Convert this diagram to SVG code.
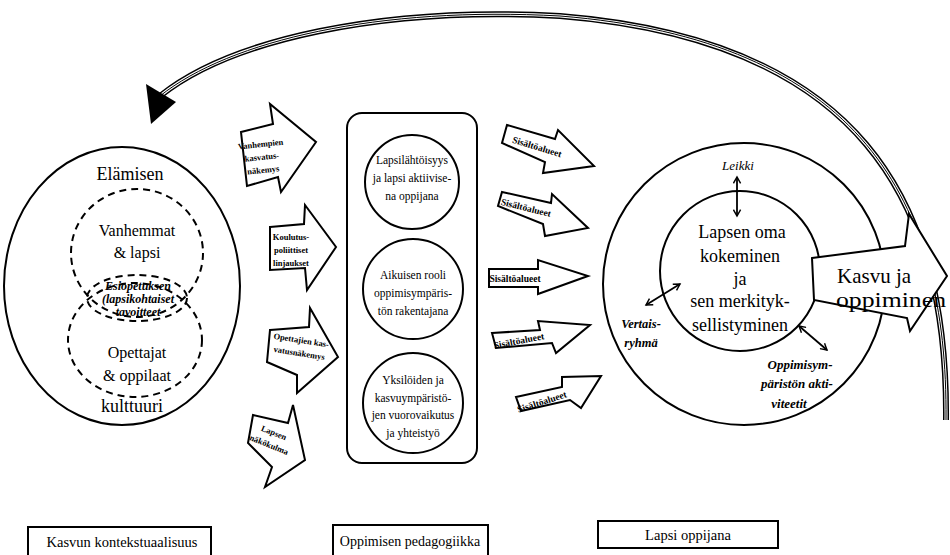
<svg xmlns="http://www.w3.org/2000/svg" width="950" height="555" viewBox="0 0 950 555" font-family="'Liberation Serif', 'Times New Roman', serif">
  <defs>
    <style>
      text { font-family: "Liberation Serif", "Times New Roman", serif; fill: #000; text-anchor: middle; }
      .ln { fill: none; stroke: #000; stroke-width: 2; }
      .dash { fill: none; stroke: #000; stroke-width: 2; stroke-dasharray: 7 5; }
      .blk { fill: #fff; stroke: #000; stroke-width: 2; stroke-linejoin: miter; }
      .big { font-size: 18px; }
      .mid { font-size: 16px; }
      .cir { font-size: 11.5px; }
      .sm { font-size: 8.5px; font-weight: bold; }
      .sis { font-size: 9.5px; font-weight: bold; }
      .it { font-style: italic; font-weight: bold; font-size: 12.5px; }
      .itn { font-style: italic; font-size: 13px; }
      .box { fill: #fff; stroke: #000; stroke-width: 2; }
      .foot { font-size: 14.5px; }
    </style>
    <marker id="dbl" viewBox="0 0 10 10" refX="8" refY="5" markerWidth="9" markerHeight="9" markerUnits="userSpaceOnUse" orient="auto-start-reverse">
      <path d="M1,1 L8,5 L1,9" fill="none" stroke="#000" stroke-width="1.6"/>
    </marker>
  </defs>

  <!-- feedback arc from the right circle back to the left ellipse -->
  <g id="connectors">
    <g id="feedback-arc">
      <path d="M946,420 C948,200 860,40 560,16 C380,6 230,40 160,96" fill="none" stroke="#000" stroke-width="6"/>
      <path d="M946,420 C948,200 860,40 560,16 C380,6 230,40 160,96" fill="none" stroke="#fff" stroke-width="3"/>
      <path d="M946,420 C948,200 860,40 560,16 C380,6 230,40 160,96" fill="none" stroke="#000" stroke-width="1"/>
      <polygon points="146,84 176,102 151,124" fill="#000"/>
    </g>
  </g>

  <!-- left: context of growth -->
  <g id="kulttuuri">
    <ellipse cx="122" cy="286" rx="118" ry="139" class="ln"/>
    <text x="130" y="180" class="big">Elämisen</text>
    <text x="132" y="412" class="big">kulttuuri</text>
  </g>
  <g id="vanhemmat">
    <ellipse cx="137" cy="253" rx="66" ry="64" class="dash"/>
    <text x="137" y="236" class="mid">Vanhemmat</text>
    <text x="137" y="258" class="mid">&amp; lapsi</text>
  </g>
  <g id="opettajat">
    <ellipse cx="135" cy="340" rx="67" ry="57" class="dash"/>
    <text x="137" y="358" class="mid">Opettajat</text>
    <text x="137" y="381" class="mid">&amp; oppilaat</text>
  </g>
  <g id="tavoitteet">
    <ellipse cx="137" cy="298" rx="50" ry="23" class="dash" fill="#fff"/>
    <text x="138" y="290" class="it" style="font-size:12px">Esiopetuksen</text>
    <text x="138" y="303" class="it" style="font-size:12px">(lapsikohtaiset</text>
    <text x="138" y="316" class="it" style="font-size:12px">tavoitteet</text>
  </g>

  <!-- left input arrows -->
  <g id="vanhempien-nakemys">
    <polygon points="241,132 273,124 270,104 316,142 281,192 278,177 247,186" class="blk"/>
    <g transform="rotate(-6 262 158)">
      <text x="262" y="147" class="sm">Vanhempien</text>
      <text x="262" y="160" class="sm">kasvatus-</text>
      <text x="262" y="173" class="sm">näkemys</text>
    </g>
  </g>
  <g id="koulutuspolitiikka">
    <polygon points="270,227 304,224 305,205 336,247 307,290 305,268 270,270" class="blk"/>
    <text x="291" y="240" class="sm">Koulutus-</text>
    <text x="291" y="253" class="sm">poliittiset</text>
    <text x="291" y="266" class="sm">linjaukset</text>
  </g>
  <g id="opettajien-nakemys">
    <polygon points="270,330 309,327 310,308 338,357 297,393 297,375 267,362" class="blk"/>
    <g transform="rotate(9 300 348)">
      <text x="300" y="343" class="sm">Opettajien kas-</text>
      <text x="300" y="356" class="sm">vatusnäkemys</text>
    </g>
  </g>
  <g id="lapsen-nakokulma">
    <polygon points="253,415 288,423 293,405 305,460 265,487 272,467 248,443" class="blk"/>
    <g transform="rotate(22 271 440)">
      <text x="271" y="435" class="sm">Lapsen</text>
      <text x="271" y="448" class="sm">näkökulma</text>
    </g>
  </g>

  <!-- middle: pedagogy -->
  <g id="pedagogiikka">
    <rect x="347" y="113" width="130" height="350" rx="15" class="ln"/>
  </g>
  <g id="lapsilahtoisyys">
    <circle cx="412" cy="182" r="47" class="ln"/>
    <text x="412" y="164" class="cir">Lapsilähtöisyys</text>
    <text x="412" y="182" class="cir">ja lapsi aktiivise-</text>
    <text x="412" y="200" class="cir">na oppijana</text>
  </g>
  <g id="aikuisen-rooli">
    <circle cx="413" cy="289" r="50" class="ln"/>
    <text x="413" y="279" class="cir">Aikuisen rooli</text>
    <text x="413" y="297" class="cir">oppimisympäris-</text>
    <text x="413" y="315" class="cir">tön rakentajana</text>
  </g>
  <g id="vuorovaikutus">
    <circle cx="413" cy="403" r="50" class="ln"/>
    <text x="413" y="384" class="cir">Yksilöiden ja</text>
    <text x="413" y="402" class="cir">kasvuympäristö-</text>
    <text x="413" y="419" class="cir">jen vuorovaikutus</text>
    <text x="413" y="437" class="cir">ja yhteistyö</text>
  </g>

  <!-- content-area arrows -->
  <g id="sisalto-1">
    <polygon points="507,125 555,139 558,130 594,166 543,173 545,162 502,143" class="blk"/>
    <text x="537" y="150" class="sis" transform="rotate(17 537 147)">Sisältöalueet</text>
  </g>
  <g id="sisalto-2">
    <polygon points="502,192 551,203 552,194 588,228 545,236 543,224 498,206" class="blk"/>
    <text x="526" y="211" class="sis" transform="rotate(14 526 208)">Sisältöalueet</text>
  </g>
  <g id="sisalto-3">
    <polygon points="489,269 538,269 538,260 588,276 538,294 538,287 489,287" class="blk"/>
    <text x="515" y="282" class="sis">Sisältöalueet</text>
  </g>
  <g id="sisalto-4">
    <polygon points="492,333 540,330 538,321 590,325 556,353 552,343 496,348" class="blk"/>
    <text x="519" y="344" class="sis" transform="rotate(-11 519 341)">Sisältöalueet</text>
  </g>
  <g id="sisalto-5">
    <polygon points="516,397 562,387 562,377 601,376 581,408 570,400 521,411" class="blk"/>
    <text x="542" y="405" class="sis" transform="rotate(-18 542 402)">Sisältöalueet</text>
  </g>

  <!-- right: the child as learner -->
  <g id="lapsi-oppijana">
    <circle cx="744" cy="284" r="141" class="ln"/>
    <circle cx="740" cy="271" r="80" class="ln"/>
    <text x="742" y="238" class="big">Lapsen oma</text>
    <text x="740" y="262" class="big">kokeminen</text>
    <text x="740" y="285" class="big">ja</text>
    <text x="740" y="307" class="big">sen merkityk-</text>
    <text x="740" y="331" class="big">sellistyminen</text>
  </g>
  <g id="leikki">
    <text x="738" y="170" class="itn">Leikki</text>
  </g>
  <g id="vertaisryhma">
    <text x="641" y="328" class="it">Vertais-</text>
    <text x="641" y="347" class="it">ryhmä</text>
  </g>
  <g id="aktiviteetit">
    <text x="800" y="369" class="it" style="font-size:13px">Oppimisym-</text>
    <text x="797" y="388" class="it" style="font-size:13px">päristön akti-</text>
    <text x="789" y="408" class="it" style="font-size:13px">viteetit</text>
  </g>
  <g id="kasvu">
    <polygon points="812,258 905,246 909,214 947,276 910,331 907,318 814,300" class="blk"/>
    <text x="837" y="283" style="font-size:21px;text-anchor:start">Kasvu ja</text>
    <text x="836" y="307" style="font-size:21px;text-anchor:start" textLength="110" lengthAdjust="spacingAndGlyphs">oppiminen</text>
  </g>

  <!-- two-way links inside the right circle -->
  <g id="links">
    <line x1="737" y1="177" x2="737" y2="216" stroke="#000" stroke-width="1.8" marker-start="url(#dbl)" marker-end="url(#dbl)"/>
    <line x1="646" y1="305" x2="680" y2="284" stroke="#000" stroke-width="1.8" marker-start="url(#dbl)" marker-end="url(#dbl)"/>
    <line x1="799" y1="326" x2="827" y2="350" stroke="#000" stroke-width="1.8" marker-start="url(#dbl)" marker-end="url(#dbl)"/>
  </g>

  <!-- section captions -->
  <g id="caption-kasvu">
    <rect x="28" y="527" width="183" height="30" class="box"/>
    <text x="122" y="547" class="foot">Kasvun kontekstuaalisuus</text>
  </g>
  <g id="caption-pedagogiikka">
    <rect x="333" y="525" width="155" height="32" class="box"/>
    <text x="410" y="546" class="foot" style="font-size:14px">Oppimisen pedagogiikka</text>
  </g>
  <g id="caption-lapsi">
    <rect x="598" y="521" width="180" height="27" class="box"/>
    <text x="688" y="540" class="foot">Lapsi oppijana</text>
  </g>
</svg>
